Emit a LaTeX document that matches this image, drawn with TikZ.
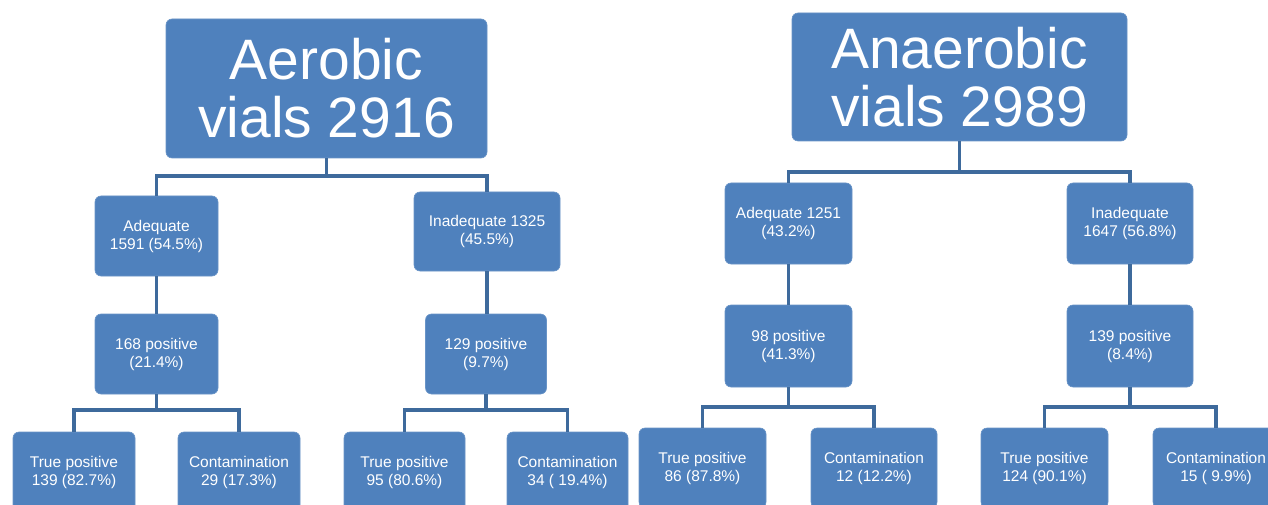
\documentclass[tikz,border=0pt]{standalone}
\usepackage{fontspec}
\setmainfont{Liberation Sans}
\definecolor{boxblue}{RGB}{79,129,189}
\definecolor{lineblue}{RGB}{62,106,156}
\begin{document}
\begin{tikzpicture}[x=1pt,y=-1pt,
  box/.style={rectangle, rounded corners=6pt, fill=boxblue, draw=boxblue!85!white, line width=0.6pt,
    text=white, align=center, inner sep=0pt, font=\fontsize{15.5}{18}\selectfont},
  title/.style={box, font=\fontsize{57}{58}\selectfont},
  conn/.style={draw=lineblue, line width=3.6pt}]
\useasboundingbox (0,0) rectangle (1268,505);
\clip (0,0) rectangle (1268,505);
\fill[white] (0,0) rectangle (1268,505);
% left tree
\node[title, minimum width=321pt, minimum height=139pt] (A0) at (326.5,88.5) {Aerobic\\vials 2916};
\node[box, minimum width=123pt, minimum height=80pt] (A1) at (156.5,236) {Adequate\\1591 (54.5\%)};
\node[box, minimum width=146pt, minimum height=79pt] (A2) at (487,231.5) {Inadequate 1325\\(45.5\%)};
\node[box, minimum width=123pt, minimum height=80pt] (A3) at (156.5,354) {168 positive\\(21.4\%)};
\node[box, minimum width=121pt, minimum height=80pt] (A4) at (486,354) {129 positive\\(9.7\%)};
\node[box, minimum width=122pt, minimum height=80pt] (A5) at (74,472) {True positive\\139 (82.7\%)};
\node[box, minimum width=122pt, minimum height=80pt] (A6) at (239,472) {Contamination\\29 (17.3\%)};
\node[box, minimum width=121pt, minimum height=80pt] (A7) at (404.5,472) {True positive\\95 (80.6\%)};
\node[box, minimum width=121pt, minimum height=80pt] (A8) at (567.5,472) {Contamination\\34 ( 19.4\%)};
% right tree
\node[title, minimum width=335pt, minimum height=128pt] (B0) at (959.5,77) {Anaerobic\\vials 2989};
\node[box, minimum width=127pt, minimum height=81pt] (B1) at (788.5,223.5) {Adequate 1251\\(43.2\%)};
\node[box, minimum width=126pt, minimum height=81pt] (B2) at (1130,223.5) {Inadequate\\1647 (56.8\%)};
\node[box, minimum width=127pt, minimum height=82pt] (B3) at (788.5,346) {98 positive\\(41.3\%)};
\node[box, minimum width=126pt, minimum height=82pt] (B4) at (1130,346) {139 positive\\(8.4\%)};
\node[box, minimum width=127pt, minimum height=80pt] (B5) at (702.5,468) {True positive\\86 (87.8\%)};
\node[box, minimum width=126pt, minimum height=80pt] (B6) at (874,468) {Contamination\\12 (12.2\%)};
\node[box, minimum width=127pt, minimum height=80pt] (B7) at (1044.5,468) {True positive\\124 (90.1\%)};
\node[box, minimum width=126pt, minimum height=80pt] (B8) at (1216,468) {Contamination\\15 ( 9.9\%)};
% bar levels
\coordinate (la) at (0,176);
\coordinate (lb) at (0,410);
\coordinate (ra) at (0,172);
\coordinate (rb) at (0,407);
% connectors left
\draw[conn] (A0.south) -- (A0.south |- la) -| (A1.north);
\draw[conn] (A0.south |- la) -| (A2.north);
\draw[conn] (A1.south) -- (A3.north);
\draw[conn] (A2.south) -- (A2.south |- A4.north);
\draw[conn] (A3.south) -- (A3.south |- lb) -| (A5.north);
\draw[conn] (A3.south |- lb) -| (A6.north);
\draw[conn] (A4.south) -- (A4.south |- lb) -| (A7.north);
\draw[conn] (A4.south |- lb) -| (A8.north);
% connectors right
\draw[conn] (B0.south) -- (B0.south |- ra) -| (B1.north);
\draw[conn] (B0.south |- ra) -| (B2.north);
\draw[conn] (B1.south) -- (B3.north);
\draw[conn] (B2.south) -- (B4.north);
\draw[conn] (B3.south) -- (B3.south |- rb) -| (B5.north);
\draw[conn] (B3.south |- rb) -| (B6.north);
\draw[conn] (B4.south) -- (B4.south |- rb) -| (B7.north);
\draw[conn] (B4.south |- rb) -| (B8.north);
\end{tikzpicture}
\end{document}
